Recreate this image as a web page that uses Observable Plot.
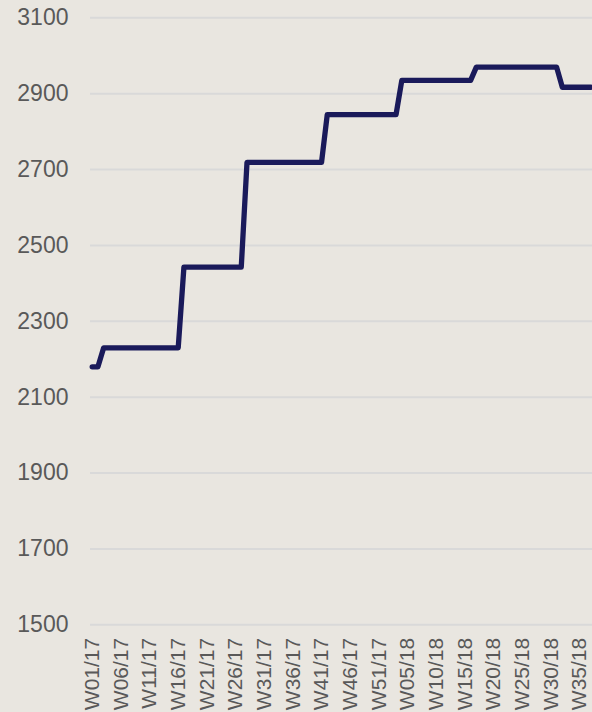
<!DOCTYPE html>
<html>
<head>
<meta charset="utf-8">
<script src="https://cdn.jsdelivr.net/npm/d3@7"></script>
<script src="https://cdn.jsdelivr.net/npm/@observablehq/plot@0.6"></script>
<style>
  html, body { margin: 0; padding: 0; background: #e9e6e0; }
  #chart svg { display: block; }
</style>
</head>
<body>
<div id="chart"></div>
<script>
// weekly values, index 0 = W01/17
const values = [
  2180, 2180,
  2230, 2230, 2230, 2230, 2230, 2230, 2230, 2230, 2230, 2230, 2230, 2230, 2230, 2230,
  2443, 2443, 2443, 2443, 2443, 2443, 2443, 2443, 2443, 2443, 2443,
  2719, 2719, 2719, 2719, 2719, 2719, 2719, 2719, 2719, 2719, 2719, 2719, 2719, 2719,
  2845, 2845, 2845, 2845, 2845, 2845, 2845, 2845, 2845, 2845, 2845, 2845, 2845,
  2935, 2935, 2935, 2935, 2935, 2935, 2935, 2935, 2935, 2935, 2935, 2935, 2935,
  2970, 2970, 2970, 2970, 2970, 2970, 2970, 2970, 2970, 2970, 2970, 2970, 2970, 2970, 2970,
  2917, 2917, 2917, 2917, 2917, 2917
];
const tickIndex = [0, 5, 10, 15, 20, 25, 30, 35, 40, 45, 50, 55, 60, 65, 70, 75, 80, 85];
const tickLabels = ["W01/17", "W06/17", "W11/17", "W16/17", "W21/17", "W26/17", "W31/17", "W36/17",
  "W41/17", "W46/17", "W51/17", "W05/18", "W10/18", "W15/18", "W20/18", "W25/18", "W30/18", "W35/18"];
const yTicks = [1500, 1700, 1900, 2100, 2300, 2500, 2700, 2900, 3100];

const data = values.map((v, i) => ({i, v}));
const labelOf = new Map(tickIndex.map((t, k) => [t, tickLabels[k]]));

const chart = Plot.plot({
  width: 592,
  height: 712,
  marginLeft: 90,
  marginRight: 0,
  marginTop: 17.3,
  marginBottom: 87.7,
  style: {background: "#e9e6e0", fontFamily: "'Liberation Sans', Arial, sans-serif", color: "#595959", overflow: "hidden"},
  x: {domain: [0, 87], insetLeft: 1.7, insetRight: 1.5},
  y: {domain: [1500, 3100]},
  marks: [
    Plot.ruleY(yTicks, {stroke: "#d9d9d9", strokeWidth: 2}),
    Plot.axisY({ticks: yTicks, tickFormat: d => String(d), tickSize: 0, tickPadding: 22, fontSize: 23, label: null, fill: "#595959"}),
    Plot.axisX({ticks: tickIndex, tickFormat: d => labelOf.get(d), tickRotate: -90, tickSize: 0, tickPadding: 13, fontSize: 21, label: null, fill: "#595959"}),
    Plot.line(data, {x: "i", y: "v", stroke: "#1a1a5a", strokeWidth: 5.3, strokeLinejoin: "round", strokeLinecap: "round"})
  ]
});
document.getElementById("chart").appendChild(chart);
</script>
</body>
</html>
